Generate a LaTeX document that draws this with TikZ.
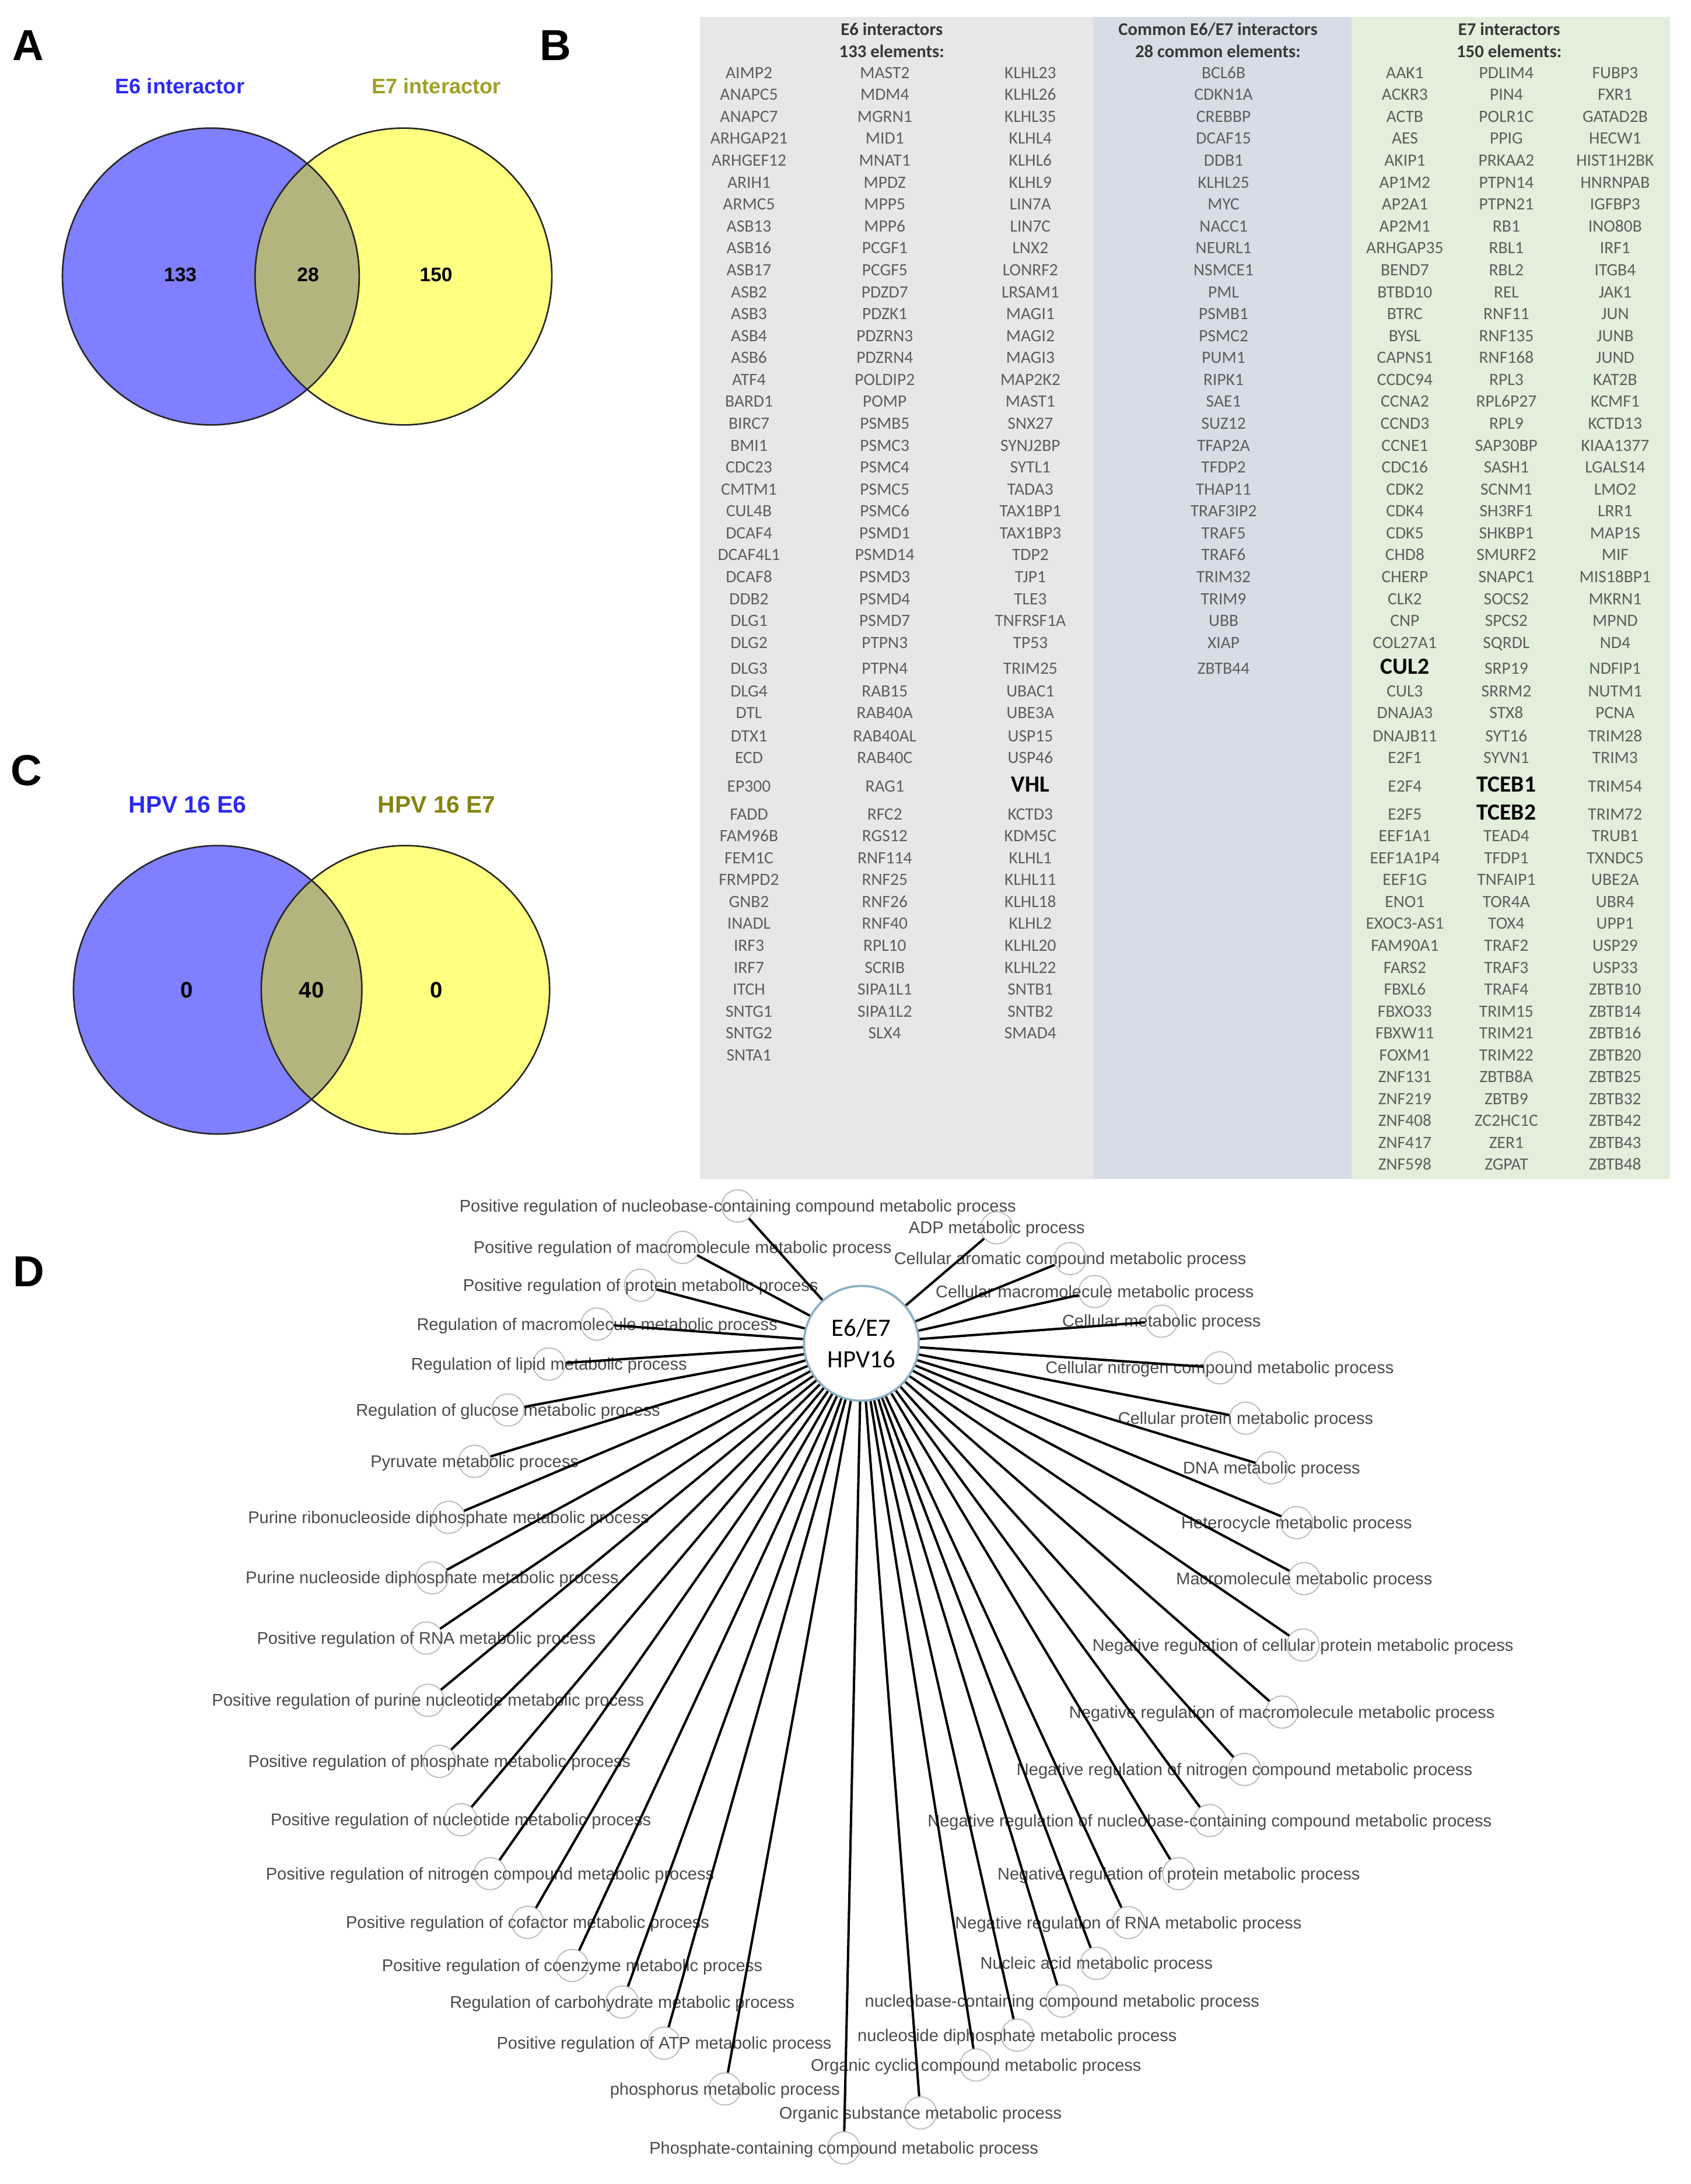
\documentclass[tikz,border=0pt]{standalone}
\usepackage{fontspec}
\setmainfont{Liberation Sans}
\newfontfamily\carl{Carlito}
\definecolor{vblue}{HTML}{7F7FFF}
\definecolor{vyel}{HTML}{FFFF80}
\definecolor{vint}{HTML}{B4B47E}
\definecolor{tblue}{HTML}{2A2AF5}
\definecolor{tolivA}{HTML}{A0A028}
\definecolor{tolivC}{HTML}{848410}
\definecolor{bgsix}{HTML}{E8E6E6}
\definecolor{bgcom}{HTML}{D6DDE6}
\definecolor{bgsev}{HTML}{E2EFDA}
\definecolor{cellgray}{HTML}{5E5E5E}
\definecolor{hdrgray}{HTML}{383838}
\definecolor{lblgray}{HTML}{4A4A4A}
\definecolor{dotgray}{HTML}{BDBDBD}
\definecolor{ctrblue}{HTML}{8DB0C4}
\newcommand\bigent{\fontsize{16.5}{18}\selectfont\bfseries\color{black}}
\def\rowys{{51.9,67.6,83.2,98.9,114.5,130.2,145.9,161.5,177.2,192.8,208.5,224.2,239.8,255.5,271.1,286.8,302.5,318.1,333.8,349.4,365.1,380.8,396.4,412.1,427.7,443.4,459.1,477.5,493.5,509.2,525.6,541.2,561.8,581.6,597.0,612.7,628.3,644.0,659.6,675.3,691.0,706.6,722.3,737.9,753.6,769.2,784.9,800.5,816.2,831.8}}
\begin{document}
\begin{tikzpicture}[x=1pt,y=-1pt,
  panel/.style={font=\bfseries\fontsize{31}{34}\selectfont, anchor=base, inner sep=0pt},
  vtitA/.style={font=\bfseries\fontsize{15.1}{17}\selectfont, anchor=base, inner sep=0pt},
  vtitC/.style={font=\bfseries\fontsize{17}{19}\selectfont, anchor=base, inner sep=0pt},
  vnumA/.style={font=\bfseries\fontsize{14}{16}\selectfont, anchor=base, inner sep=0pt},
  vnumC/.style={font=\bfseries\fontsize{16}{18}\selectfont, anchor=base, inner sep=0pt},
  vline/.style={line width=1.1pt, draw=black!85},
  cell/.style={font=\carl\fontsize{12.3}{14}\selectfont, text=cellgray, anchor=base, yshift=-4pt, inner sep=0pt},
  hdr/.style={font=\carl\bfseries\fontsize{12.8}{14}\selectfont, text=hdrgray, anchor=base, inner sep=0pt},
  lbl/.style={font=\fontsize{12.1}{14}\selectfont, text=lblgray, anchor=base, yshift=-4.2pt, inner sep=0pt},
  dotc/.style={circle, draw=dotgray, line width=0.8pt, minimum size=23pt, inner sep=0pt},
  ctrnode/.style={circle, draw=ctrblue, line width=1.6pt, fill=white, minimum size=82pt, inner sep=0pt, align=center, font=\carl\fontsize{17.8}{22.7}\selectfont},
  spoke/.style={line width=1.7pt, draw=black}
]
\useasboundingbox (0,0) rectangle (1207.5,1560);

% ---------------- Panel A ----------------
\node[panel] (pA) at (20,43) {A};
\fill[vblue] (150.6,197.5) circle (106pt);
\fill[vyel] (288.2,197.5) circle (106pt);
\begin{scope}
  \clip (150.6,197.5) circle (106pt);
  \fill[vint] (288.2,197.5) circle (106pt);
\end{scope}
\draw[vline] (150.6,197.5) circle (106pt);
\draw[vline] (288.2,197.5) circle (106pt);
\node[vtitA, text=tblue] (tA6) at (128.5,67) {E6 interactor};
\node[vtitA, text=tolivA] (tA7) at (311.7,67) {E7 interactor};
\node[vnumA] (nA1) at (128.8,201) {133};
\node[vnumA] (nA2) at (220,201) {28};
\node[vnumA] (nA3) at (311.5,201) {150};

% ---------------- Panel C ----------------
\node[panel] (pC) at (19,561) {C};
\fill[vblue] (155.5,707) circle (103pt);
\fill[vyel] (289.6,707) circle (103pt);
\begin{scope}
  \clip (155.5,707) circle (103pt);
  \fill[vint] (289.6,707) circle (103pt);
\end{scope}
\draw[vline] (155.5,707) circle (103pt);
\draw[vline] (289.6,707) circle (103pt);
\node[vtitC, text=tblue] (tC6) at (134,580.8) {HPV 16 E6};
\node[vtitC, text=tolivC] (tC7) at (312,580.8) {HPV 16 E7};
\node[vnumC] (nC1) at (133.3,712.7) {0};
\node[vnumC] (nC2) at (222.5,712.7) {40};
\node[vnumC] (nC3) at (311.8,712.7) {0};

% ---------------- Panel B ----------------
\node[panel] (pB) at (397,43) {B};
\fill[bgsix] (500,12) rectangle (781,842);
\fill[bgcom] (781,12) rectangle (965.3,842);
\fill[bgsev] (965.3,12) rectangle (1193,842);
\node[hdr] (h1a) at (637,25.2) {E6 interactors};
\node[hdr] (h1b) at (637,41.1) {133 elements:};
\node[hdr] (h2a) at (870,25.2) {Common E6/E7 interactors};
\node[hdr] (h2b) at (870,41.1) {28 common elements:};
\node[hdr] (h3a) at (1078,25.2) {E7 interactors};
\node[hdr] (h3b) at (1078,41.1) {150 elements:};

\foreach \t [count=\i] in {AIMP2,ANAPC5,ANAPC7,ARHGAP21,ARHGEF12,ARIH1,ARMC5,ASB13,ASB16,ASB17,ASB2,ASB3,ASB4,ASB6,ATF4,BARD1,BIRC7,BMI1,CDC23,CMTM1,CUL4B,DCAF4,DCAF4L1,DCAF8,DDB2,DLG1,DLG2,DLG3,DLG4,DTL,DTX1,ECD,EP300,FADD,FAM96B,FEM1C,FRMPD2,GNB2,INADL,IRF3,IRF7,ITCH,SNTG1,SNTG2,SNTA1}{
  \pgfmathsetmacro\yy{\rowys[\i-1]}
  \node[cell] (ea\i) at (535,\yy) {\t};
}
\foreach \t [count=\i] in {MAST2,MDM4,MGRN1,MID1,MNAT1,MPDZ,MPP5,MPP6,PCGF1,PCGF5,PDZD7,PDZK1,PDZRN3,PDZRN4,POLDIP2,POMP,PSMB5,PSMC3,PSMC4,PSMC5,PSMC6,PSMD1,PSMD14,PSMD3,PSMD4,PSMD7,PTPN3,PTPN4,RAB15,RAB40A,RAB40AL,RAB40C,RAG1,RFC2,RGS12,RNF114,RNF25,RNF26,RNF40,RPL10,SCRIB,SIPA1L1,SIPA1L2,SLX4}{
  \pgfmathsetmacro\yy{\rowys[\i-1]}
  \node[cell] (eb\i) at (632,\yy) {\t};
}
\foreach \t [count=\i] in {KLHL23,KLHL26,KLHL35,KLHL4,KLHL6,KLHL9,LIN7A,LIN7C,LNX2,LONRF2,LRSAM1,MAGI1,MAGI2,MAGI3,MAP2K2,MAST1,SNX27,SYNJ2BP,SYTL1,TADA3,TAX1BP1,TAX1BP3,TDP2,TJP1,TLE3,TNFRSF1A,TP53,TRIM25,UBAC1,UBE3A,USP15,USP46,{\bigent VHL},KCTD3,KDM5C,KLHL1,KLHL11,KLHL18,KLHL2,KLHL20,KLHL22,SNTB1,SNTB2,SMAD4}{
  \pgfmathsetmacro\yy{\rowys[\i-1]}
  \node[cell] (ec\i) at (736,\yy) {\t};
}
\foreach \t [count=\i] in {BCL6B,CDKN1A,CREBBP,DCAF15,DDB1,KLHL25,MYC,NACC1,NEURL1,NSMCE1,PML,PSMB1,PSMC2,PUM1,RIPK1,SAE1,SUZ12,TFAP2A,TFDP2,THAP11,TRAF3IP2,TRAF5,TRAF6,TRIM32,TRIM9,UBB,XIAP,ZBTB44}{
  \pgfmathsetmacro\yy{\rowys[\i-1]}
  \node[cell] (cm\i) at (874,\yy) {\t};
}
\foreach \t [count=\i] in {AAK1,ACKR3,ACTB,AES,AKIP1,AP1M2,AP2A1,AP2M1,ARHGAP35,BEND7,BTBD10,BTRC,BYSL,CAPNS1,CCDC94,CCNA2,CCND3,CCNE1,CDC16,CDK2,CDK4,CDK5,CHD8,CHERP,CLK2,CNP,COL27A1,{\bigent CUL2},CUL3,DNAJA3,DNAJB11,E2F1,E2F4,E2F5,EEF1A1,EEF1A1P4,EEF1G,ENO1,EXOC3-AS1,FAM90A1,FARS2,FBXL6,FBXO33,FBXW11,FOXM1,ZNF131,ZNF219,ZNF408,ZNF417,ZNF598}{
  \pgfmathsetmacro\yy{\rowys[\i-1]}
  \node[cell] (sa\i) at (1003.5,\yy) {\t};
}
\foreach \t [count=\i] in {PDLIM4,PIN4,POLR1C,PPIG,PRKAA2,PTPN14,PTPN21,RB1,RBL1,RBL2,REL,RNF11,RNF135,RNF168,RPL3,RPL6P27,RPL9,SAP30BP,SASH1,SCNM1,SH3RF1,SHKBP1,SMURF2,SNAPC1,SOCS2,SPCS2,SQRDL,SRP19,SRRM2,STX8,SYT16,SYVN1,{\bigent TCEB1},{\bigent TCEB2},TEAD4,TFDP1,TNFAIP1,TOR4A,TOX4,TRAF2,TRAF3,TRAF4,TRIM15,TRIM21,TRIM22,ZBTB8A,ZBTB9,ZC2HC1C,ZER1,ZGPAT}{
  \pgfmathsetmacro\yy{\rowys[\i-1]}
  \node[cell] (sb\i) at (1076,\yy) {\t};
}
\foreach \t [count=\i] in {FUBP3,FXR1,GATAD2B,HECW1,HIST1H2BK,HNRNPAB,IGFBP3,INO80B,IRF1,ITGB4,JAK1,JUN,JUNB,JUND,KAT2B,KCMF1,KCTD13,KIAA1377,LGALS14,LMO2,LRR1,MAP1S,MIF,MIS18BP1,MKRN1,MPND,ND4,NDFIP1,NUTM1,PCNA,TRIM28,TRIM3,TRIM54,TRIM72,TRUB1,TXNDC5,UBE2A,UBR4,UPP1,USP29,USP33,ZBTB10,ZBTB14,ZBTB16,ZBTB20,ZBTB25,ZBTB32,ZBTB42,ZBTB43,ZBTB48}{
  \pgfmathsetmacro\yy{\rowys[\i-1]}
  \node[cell] (sc\i) at (1153.7,\yy) {\t};
}

% ---------------- Panel D ----------------
\node[panel] (pD) at (20.5,918.8) {D};
\foreach \nx/\ny/\txt [count=\k] in {
527/861.4/Positive regulation of nucleobase-containing compound metabolic process,
712/877/ADP metabolic process,
487.6/891/Positive regulation of macromolecule metabolic process,
764.4/899/Cellular aromatic compound metabolic process,
457.6/918/Positive regulation of protein metabolic process,
782/922.5/Cellular macromolecule metabolic process,
426.5/945.8/Regulation of macromolecule metabolic process,
829.7/943.7/Cellular metabolic process,
392.2/974.3/Regulation of lipid metabolic process,
871.2/977/Cellular nitrogen compound metabolic process,
362.9/1007.1/Regulation of glucose metabolic process,
889.8/1013/Cellular protein metabolic process,
339/1043.8/Pyruvate metabolic process,
908.3/1048.4/DNA metabolic process,
320.5/1083.8/Purine ribonucleoside diphosphate metabolic process,
926.2/1087.6/Heterocycle metabolic process,
308.7/1127/Purine nucleoside diphosphate metabolic process,
931.6/1127.6/Macromolecule metabolic process,
304.6/1170/Positive regulation of RNA metabolic process,
930.7/1175/Negative regulation of cellular protein metabolic process,
305.8/1214.5/Positive regulation of purine nucleotide metabolic process,
915.7/1222.9/Negative regulation of macromolecule metabolic process,
313.9/1258.1/Positive regulation of phosphate metabolic process,
889/1263.9/Negative regulation of nitrogen compound metabolic process,
329.2/1299.8/Positive regulation of nucleotide metabolic process,
864.1/1300.4/Negative regulation of nucleobase-containing compound metabolic process,
350/1338.3/Positive regulation of nitrogen compound metabolic process,
842/1338.3/Negative regulation of protein metabolic process,
376.9/1373.1/Positive regulation of cofactor metabolic process,
806/1373.3/Negative regulation of RNA metabolic process,
408.7/1403.9/Positive regulation of coenzyme metabolic process,
783.3/1402.4/Nucleic acid metabolic process,
444.5/1430/Regulation of carbohydrate metabolic process,
758.7/1429.3/nucleobase-containing compound metabolic process,
474.4/1459.4/Positive regulation of ATP metabolic process,
726.6/1453.7/nucleoside diphosphate metabolic process,
517.8/1492.1/phosphorus metabolic process,
697.2/1475/Organic cyclic compound metabolic process,
657.5/1509.2/Organic substance metabolic process,
602.8/1534.2/Phosphate-containing compound metabolic process}{
  \node[dotc] (c\k) at (\nx,\ny) {};
  \node[lbl] (t\k) at (c\k) {\txt};
}
\node[ctrnode] (ctr) at (615.3,959.5) {E6/E7\\HPV16};
\foreach \k in {1,...,40}{
  \draw[spoke] (ctr) -- (c\k);
}
\end{tikzpicture}
\end{document}
